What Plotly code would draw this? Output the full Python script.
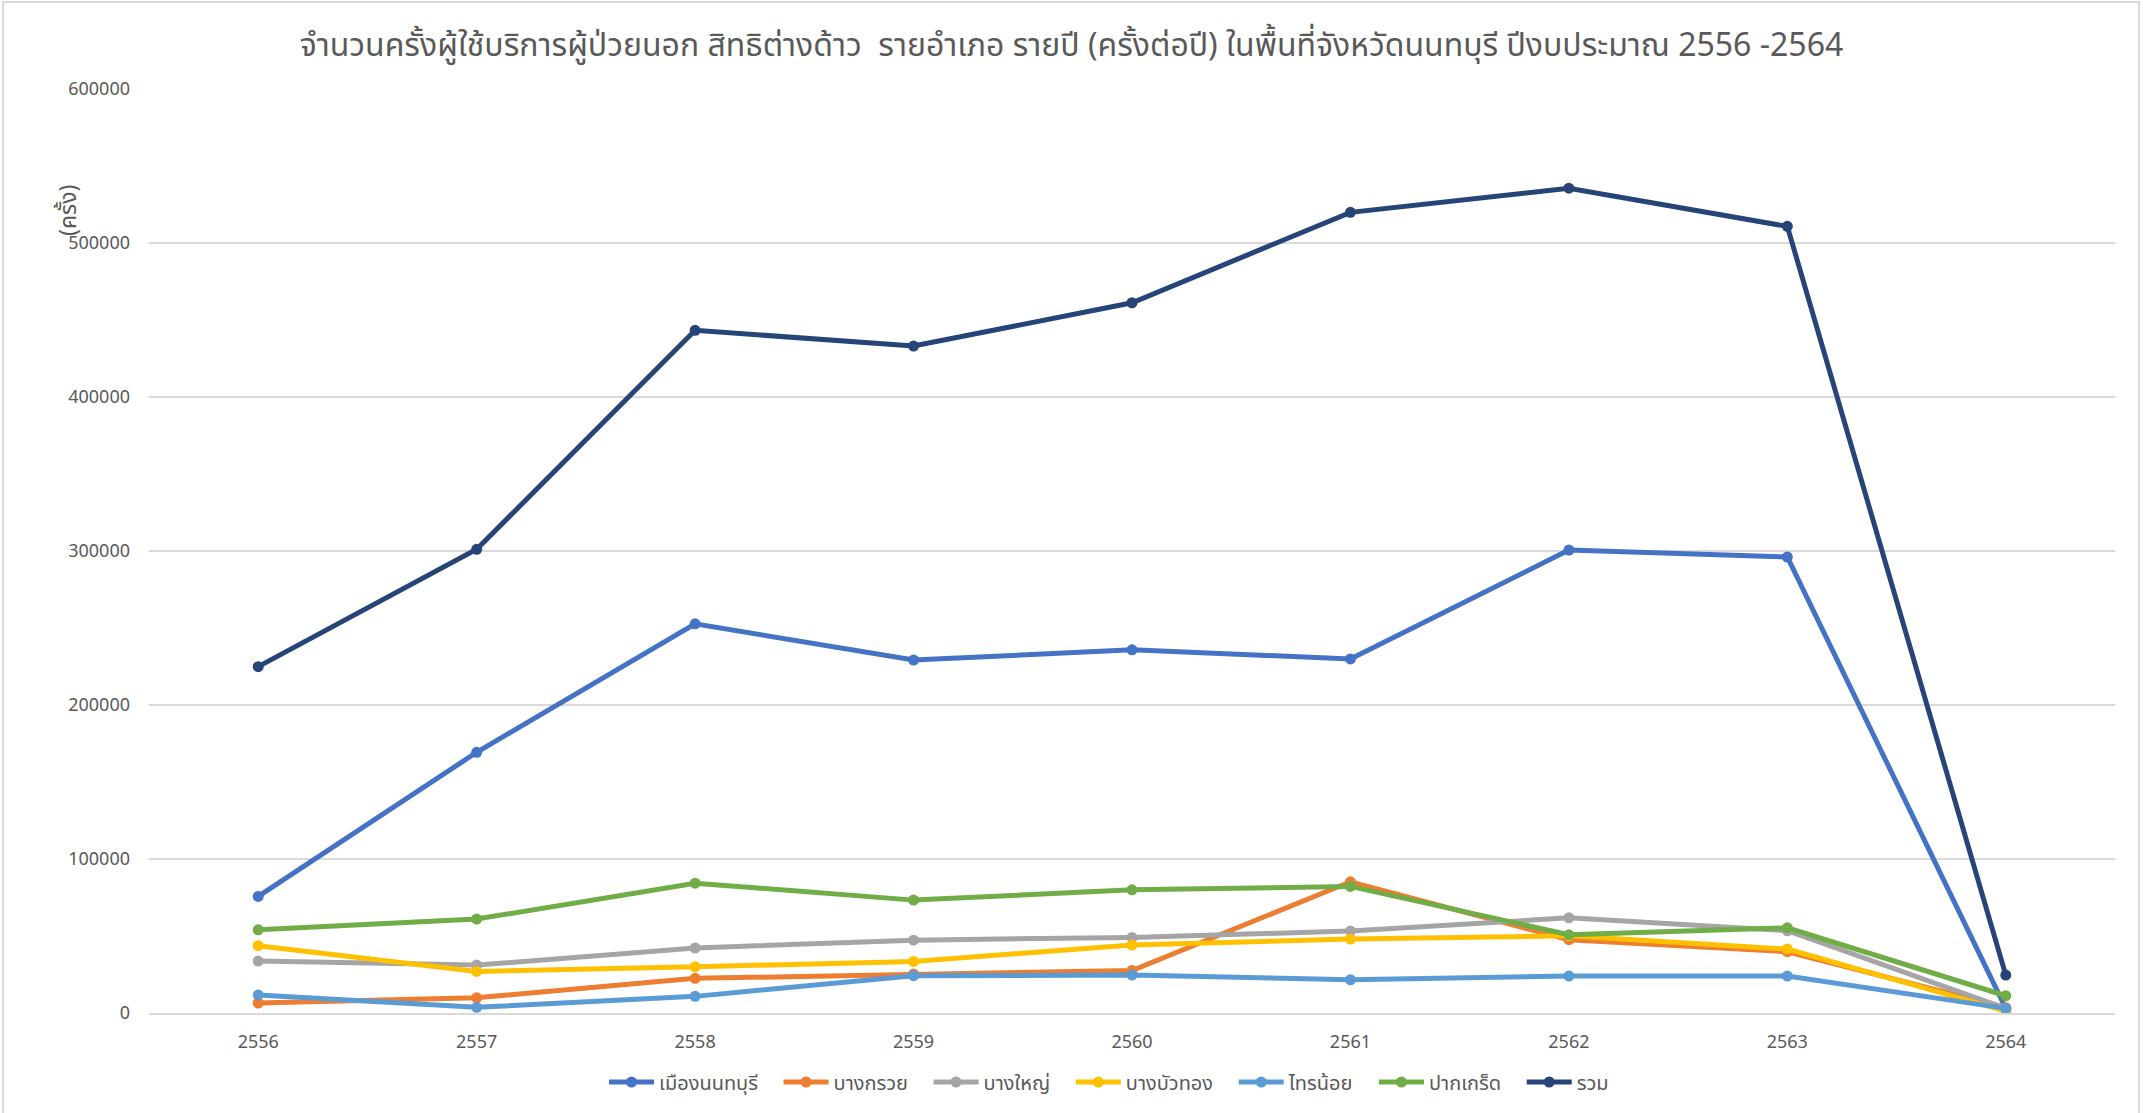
import plotly.graph_objects as go

years = ["2556", "2557", "2558", "2559", "2560", "2561", "2562", "2563", "2564"]

mueang_nonthaburi = [75700, 169300, 252700, 229200, 235800, 229900, 300600, 296100, 3000]
bang_kruai = [6500, 9900, 22500, 25300, 27600, 85200, 47600, 39800, 3500]
bang_yai = [33700, 31100, 42200, 47300, 49100, 53200, 61800, 53400, 3000]
bang_bua_thong = [43700, 27000, 30000, 33500, 44100, 48000, 50100, 41500, 1200]
sai_noi = [11700, 3700, 10800, 24200, 24600, 21600, 24000, 24000, 3000]
pak_kret = [54000, 61000, 84300, 73300, 80000, 82200, 50800, 55300, 11200]
total = [224900, 301100, 443300, 433100, 461200, 519900, 535600, 510800, 24600]

series_names = ["เมืองนนทบุรี", "บางกรวย", "บางใหญ่", "บางบัวทอง", "ไทรน้อย", "ปากเกร็ด", "รวม"]
series_values = [mueang_nonthaburi, bang_kruai, bang_yai, bang_bua_thong, sai_noi, pak_kret, total]
series_colors = ["#4472C4", "#ED7D31", "#A5A5A5", "#FFC000", "#5B9BD5", "#70AD47", "#264478"]

y_ticks = [0, 100000, 200000, 300000, 400000, 500000, 600000]
y_tick_labels = ["0", "100000", "200000", "300000", "400000", "500000", "600000"]

title_text = "จำนวนครั้งผู้ใช้บริการผู้ป่วยนอก สิทธิต่างด้าว  รายอำเภอ รายปี (ครั้งต่อปี) ในพื้นที่จังหวัดนนทบุรี ปีงบประมาณ 2556 -2564"
y_title = "(ครั้ง)"

FONT = "Leelawadee UI, Noto Sans Thai, Tahoma, Noto Sans, Open Sans, sans-serif"
GRAY = "#595959"

W, H = 2143, 1113
ML, MR, MT, MB = 149, 28, 89, 100
PW, PH = W - ML - MR, H - MT - MB

LEGEND_PAD = "\u00a0\u00a0\u00a0"

fig = go.Figure()
for name, vals, col in zip(series_names, series_values, series_colors):
    fig.add_trace(go.Scatter(
        x=years, y=vals, name=name + LEGEND_PAD, mode="lines+markers",
        line=dict(color=col, width=5),
        marker=dict(color=col, size=11, symbol="circle"),
    ))

def px_x(p):
    return (p - ML) / PW

def px_y(p):
    return (H - MB - p) / PH

fig.update_layout(
    width=W, height=H,
    margin=dict(l=ML, r=MR, t=MT, b=MB, autoexpand=False),
    paper_bgcolor="white", plot_bgcolor="white",
    font=dict(family=FONT, color=GRAY, size=18),
    title=dict(text=title_text, x=0.5, xanchor="center", xref="container",
               y=1 - 45 / H, yanchor="middle", yref="container",
               font=dict(size=32, color=GRAY, family=FONT)),
    showlegend=True,
    legend=dict(orientation="h", x=px_x(1117), xanchor="center", y=px_y(1082), yanchor="middle",
                font=dict(size=20, color=GRAY, family=FONT), itemwidth=45,
                bgcolor="rgba(0,0,0,0)"),
    xaxis=dict(type="category", range=[-0.5, 8.5], showgrid=False, showline=True,
               linecolor="#d9d9d9", linewidth=1.5, ticks="", tickfont=dict(size=18, color=GRAY),
               ticklabelstandoff=12, zeroline=False, fixedrange=True),
    yaxis=dict(range=[0, 600000], tickvals=y_ticks, ticktext=y_tick_labels, showgrid=True,
               gridcolor="#d9d9d9", gridwidth=1.5, zeroline=False, showline=False, ticks="",
               tickfont=dict(size=18, color=GRAY), ticklabelstandoff=18, fixedrange=True),
    annotations=[dict(text=y_title, xref="paper", yref="paper", x=px_x(69), y=px_y(210),
                      xanchor="center", yanchor="middle", textangle=-90, showarrow=False,
                      font=dict(size=23, color=GRAY, family=FONT))],
    shapes=[dict(type="rect", xref="paper", yref="paper", x0=px_x(3), x1=px_x(2139),
                 y0=px_y(1120), y1=px_y(2), line=dict(color="#d9d9d9", width=2),
                 fillcolor="rgba(0,0,0,0)", layer="below")],
)

fig.write_html("out.html", config={"displayModeBar": False},
               post_script="document.body.style.margin='0px';document.body.style.padding='0px';")
